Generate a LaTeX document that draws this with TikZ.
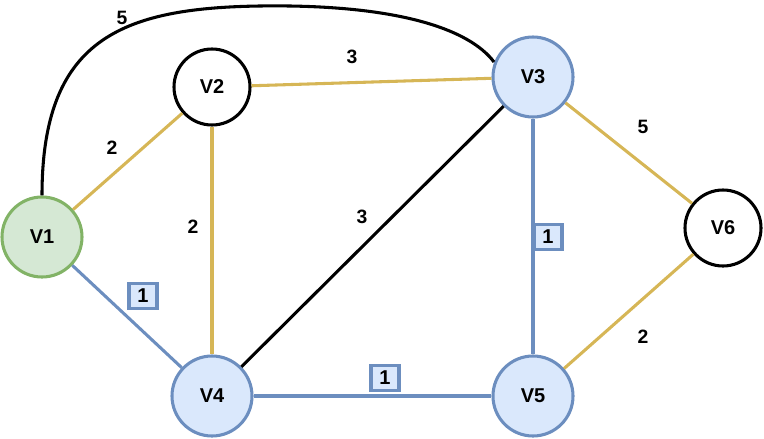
\documentclass[tikz,border=0pt]{standalone}
\usepackage{fontspec}
\setmainfont{Liberation Sans}
\definecolor{gfill}{HTML}{D5E8D4}
\definecolor{gdraw}{HTML}{82B366}
\definecolor{bfill}{HTML}{DAE8FC}
\definecolor{bdraw}{HTML}{6C8EBF}
\definecolor{gold}{HTML}{D6B656}
\begin{document}
\begin{tikzpicture}[x=0.75pt,y=-0.75pt,
  vtx/.style={circle,line width=2.3pt,minimum size=57pt,inner sep=0pt,font=\bfseries\fontsize{15}{15}\selectfont},
  plain/.style={vtx,draw=black,fill=white},
  green/.style={vtx,draw=gdraw,fill=gfill},
  blue/.style={vtx,draw=bdraw,fill=bfill},
  edg/.style={line width=2.3pt},
  wl/.style={font=\bfseries\fontsize{14.5}{14.5}\selectfont,inner sep=1pt},
  bl/.style={font=\bfseries\fontsize{15}{15}\selectfont,draw=bdraw,fill=bfill,line width=2.4pt,minimum width=21pt,minimum height=19pt,inner sep=0pt}]
\useasboundingbox (0,0) rectangle (764,439);
\node[green,minimum size=60pt] (v1) at (42,237) {V1};
\node[plain] (v2) at (212,87) {V2};
\node[blue,minimum size=60pt] (v3) at (533,77) {V3};
\node[blue,minimum size=60pt] (v4) at (212,396) {V4};
\node[blue,minimum size=60pt] (v5) at (533,396) {V5};
\node[plain] (v6) at (723,228) {V6};
\coordinate (top) at (260,6);
\coordinate (v3in) at (494,62);
\draw[edg] (v1.north) .. controls (42,40) and (120,8) .. (top) .. controls (400,4) and (470,30) .. (v3in);
\draw[edg,gold] (v1) -- (v2);
\draw[edg,bdraw] (v1) -- (v4);
\draw[edg,gold] (v2) -- (v3);
\draw[edg,gold] (v2) -- (v4);
\draw[edg] (v3) -- (v4);
\draw[edg,bdraw] (v3) -- (v5);
\draw[edg,gold] (v3) -- (v6);
\draw[edg,bdraw] (v4) -- (v5);
\draw[edg,gold] (v5) -- (v6);
\node[wl] (l15) at (122,18) {5};
\node[wl] (l23) at (352,57) {3};
\node[wl] (l12) at (112,148) {2};
\node[wl] (l24) at (193,227) {2};
\node[wl] (l34) at (362,217) {3};
\node[wl] (l36) at (643,127) {5};
\node[wl] (l56) at (643,337) {2};
\node[bl] (l14) at (143,296) {1};
\node[bl] (l35) at (548,237) {1};
\node[bl] (l45) at (385,378) {1};
\end{tikzpicture}
\end{document}
